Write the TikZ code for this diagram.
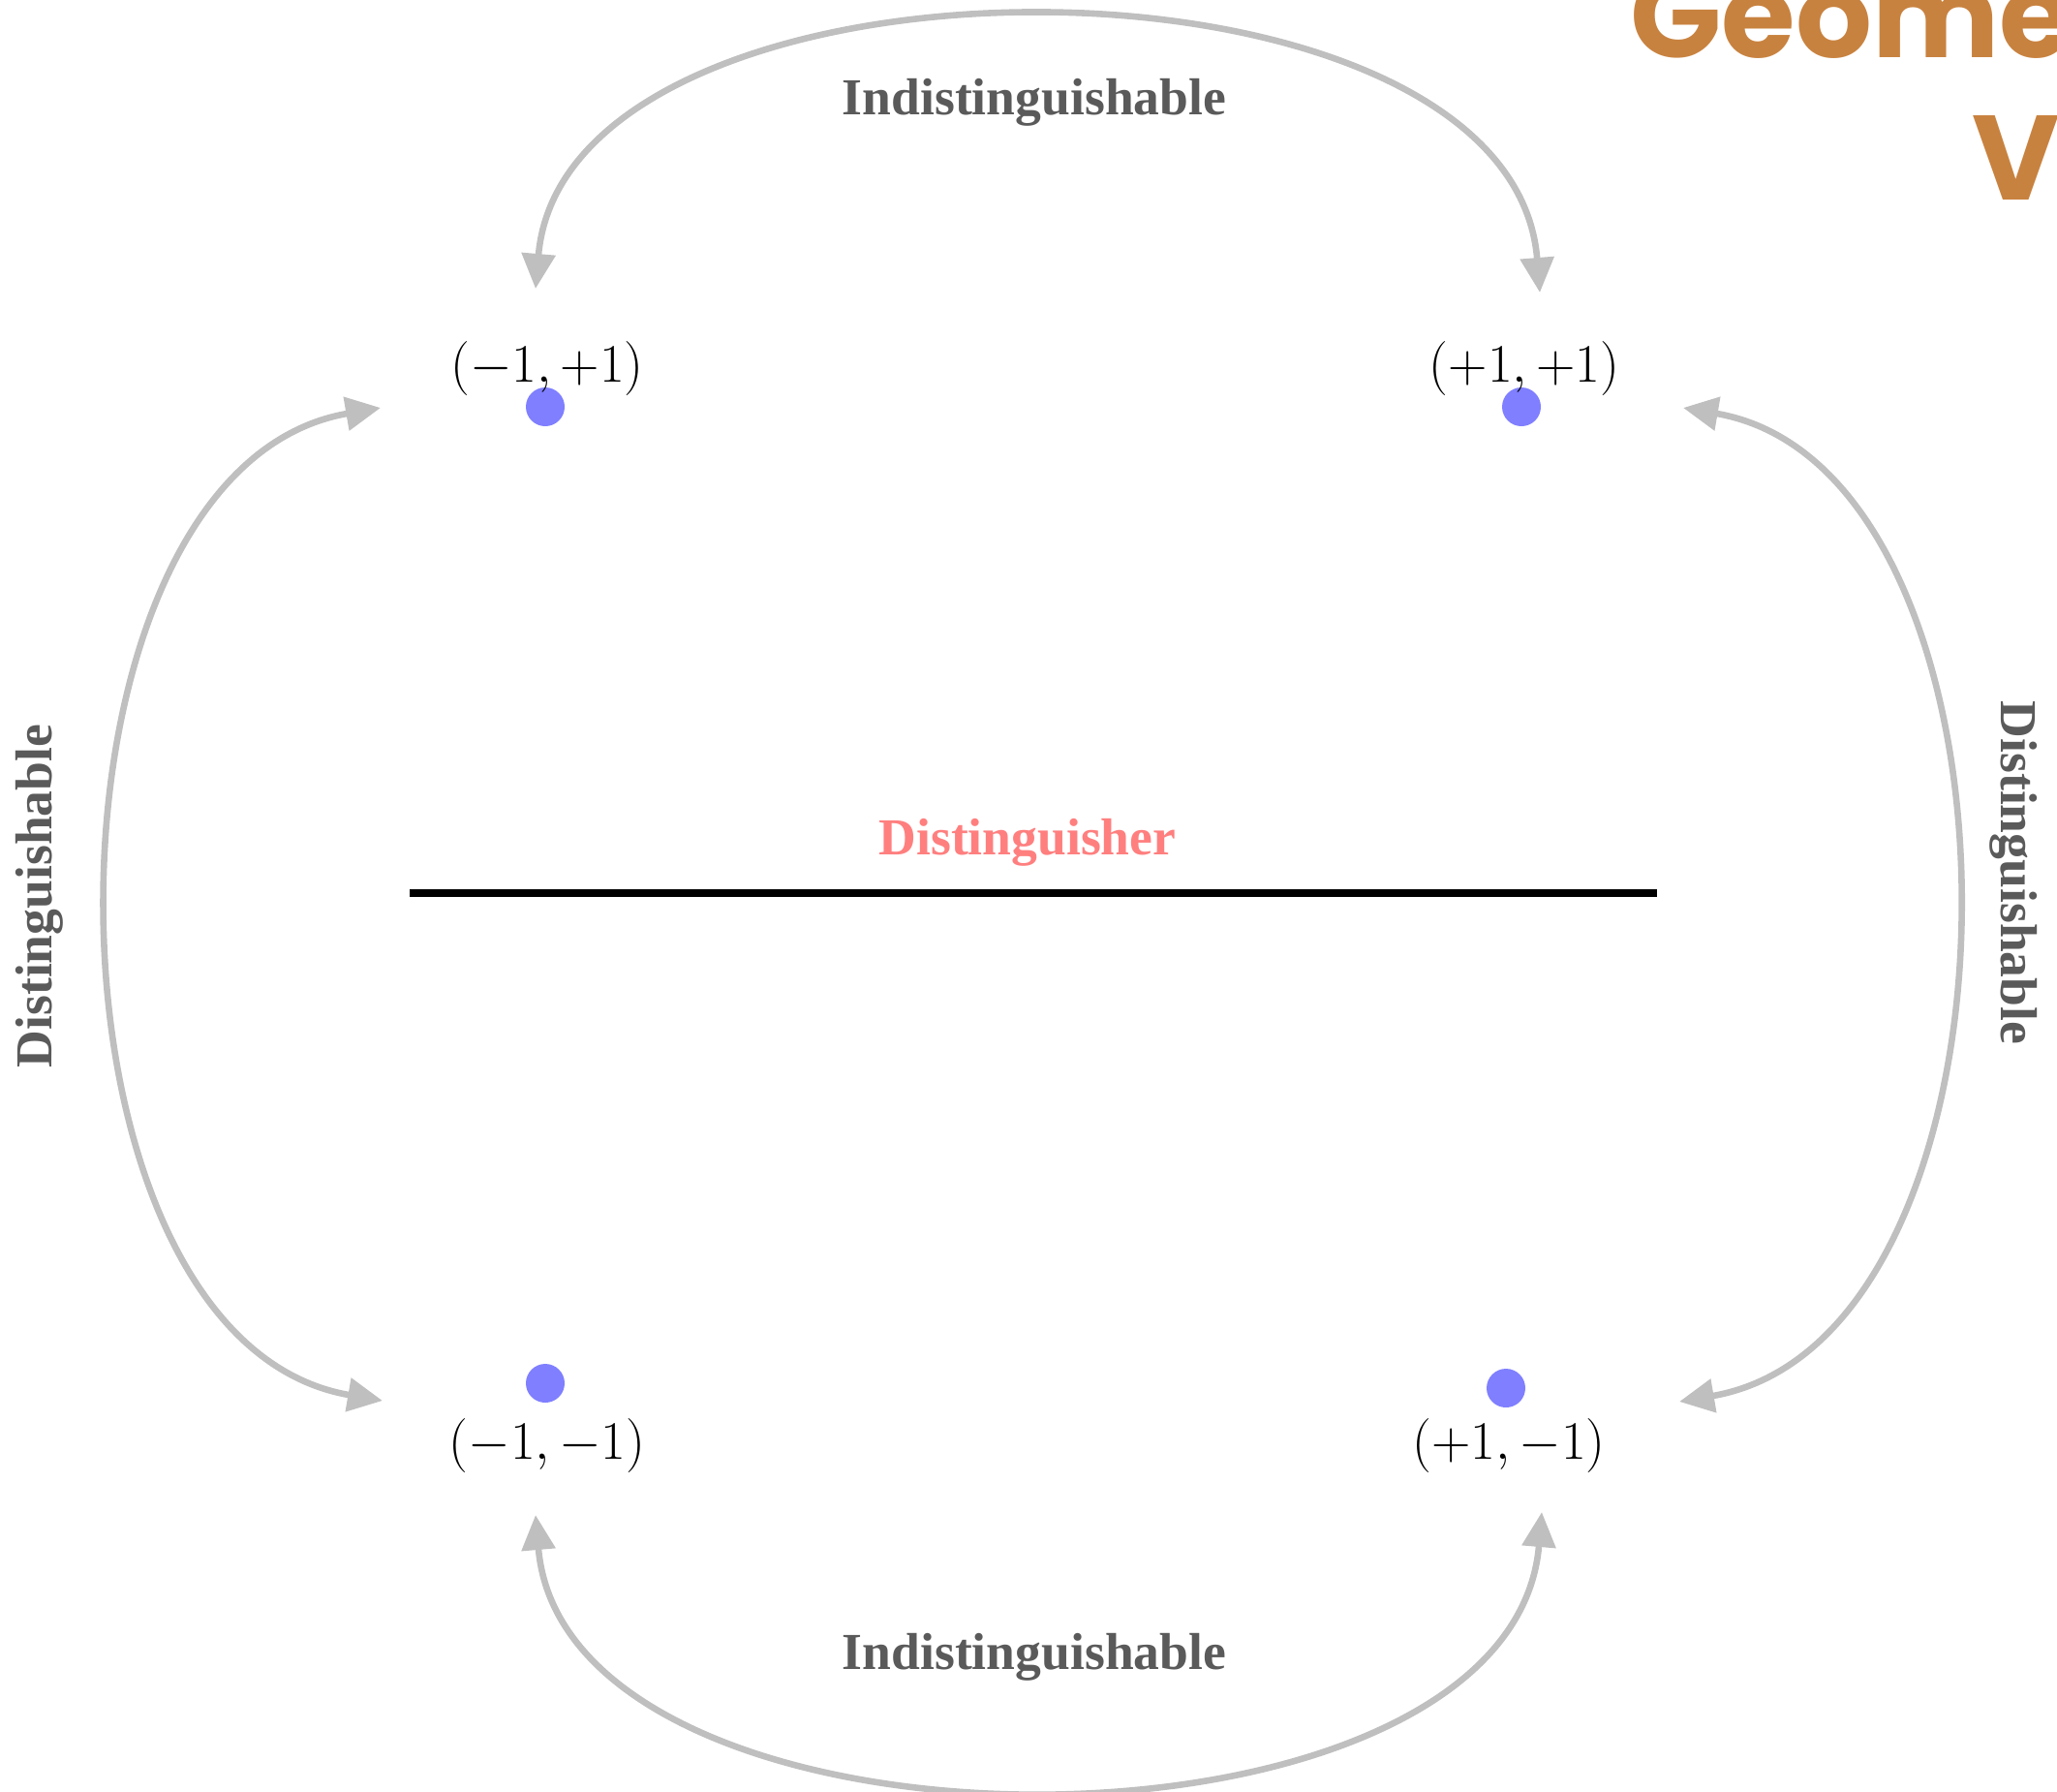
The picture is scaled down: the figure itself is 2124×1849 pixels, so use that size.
\RequirePackage{fix-cm}
\documentclass[tikz,border=0pt]{standalone}
\usepackage[no-math]{fontspec}
\newfontfamily\labfont{Liberation Serif}
\newfontfamily\titlefont{Poppins}
\usetikzlibrary{arrows.meta}
\definecolor{arrowgray}{HTML}{BFBFBF}
\definecolor{labgray}{HTML}{5A5A5A}
\definecolor{salmon}{HTML}{FF7F7F}
\definecolor{dotblue}{HTML}{7F7FFF}
\definecolor{titleorange}{HTML}{C8823F}
\tikzset{
  pt/.style={circle, fill=dotblue, draw=none, minimum size=20pt, inner sep=0pt},
  coordlab/.style={inner sep=0pt, font=\fontsize{28}{34}\selectfont},
  graylab/.style={inner sep=0pt, text=labgray, font=\labfont\bfseries\fontsize{26.8}{32}\selectfont},
  link/.style={draw=arrowgray, line width=3.3pt, {Triangle[length=18pt,width=17pt]}-{Triangle[length=18pt,width=17pt]}},
  titletext/.style={inner sep=0pt, anchor=base west, text=titleorange, font=\titlefont\bfseries\fontsize{62}{74}\selectfont}
}
\begin{document}
\begin{tikzpicture}[x=0.5pt,y=-0.5pt]
\useasboundingbox (0,0) rectangle (2124,1849);
\clip (0,0) rectangle (2124,1849);
% title (cut by the page edge)
\node[titletext] (t1) at (1683,59) {Geome};
\node[titletext] (t2) at (2036,206) {V};
% points
\node[pt] (dTL) at (563,420) {};
\node[pt] (dTR) at (1571,420) {};
\node[pt] (dBL) at (563,1428) {};
\node[pt] (dBR) at (1555,1433) {};
% coordinate labels
\node[coordlab] (lTL) at (565,380) {$(-1,+1)$};
\node[coordlab] (lTR) at (1574,380) {$(+1,+1)$};
\node[coordlab] (lBL) at (565,1492) {$(-1,-1)$};
\node[coordlab] (lBR) at (1558,1492) {$(+1,-1)$};
% distinguisher line
\coordinate (lineL) at (423,922);
\coordinate (lineR) at (1711,922);
\draw[line width=4pt, black] (lineL) -- (lineR);
\node[inner sep=0pt, anchor=base, text=salmon, font=\labfont\bfseries\fontsize{26.8}{32}\selectfont] (dist) at (1061,882) {Distinguisher};
% arrow end points
\coordinate (aTL) at (553,298);
\coordinate (aTR) at (1590,302);
\coordinate (aBL) at (553,1564);
\coordinate (aBR) at (1592,1561);
\coordinate (aLT) at (393,421);
\coordinate (aLB) at (395,1446);
\coordinate (aRT) at (1738,421);
\coordinate (aRB) at (1734,1447);
% arrows
\draw[link] (aTL) .. controls (585,-72) and (1560,-72) .. (aTR);
\draw[link] (aBL) .. controls (585,1938) and (1560,1938) .. (aBR);
\draw[link] (aLT) .. controls (22,485) and (22,1382) .. (aLB);
\draw[link] (aRT) .. controls (2111,485) and (2111,1382) .. (aRB);
% arrow labels
\node[graylab, anchor=base] (iTop) at (1068,118) {Indistinguishable};
\node[graylab, anchor=base] (iBot) at (1068,1723) {Indistinguishable};
\node[graylab, rotate=90] (dLeft) at (41,925) {Distinguishable};
\node[graylab, rotate=-90] (dRight) at (2079,901) {Distinguishable};
\end{tikzpicture}
\end{document}
